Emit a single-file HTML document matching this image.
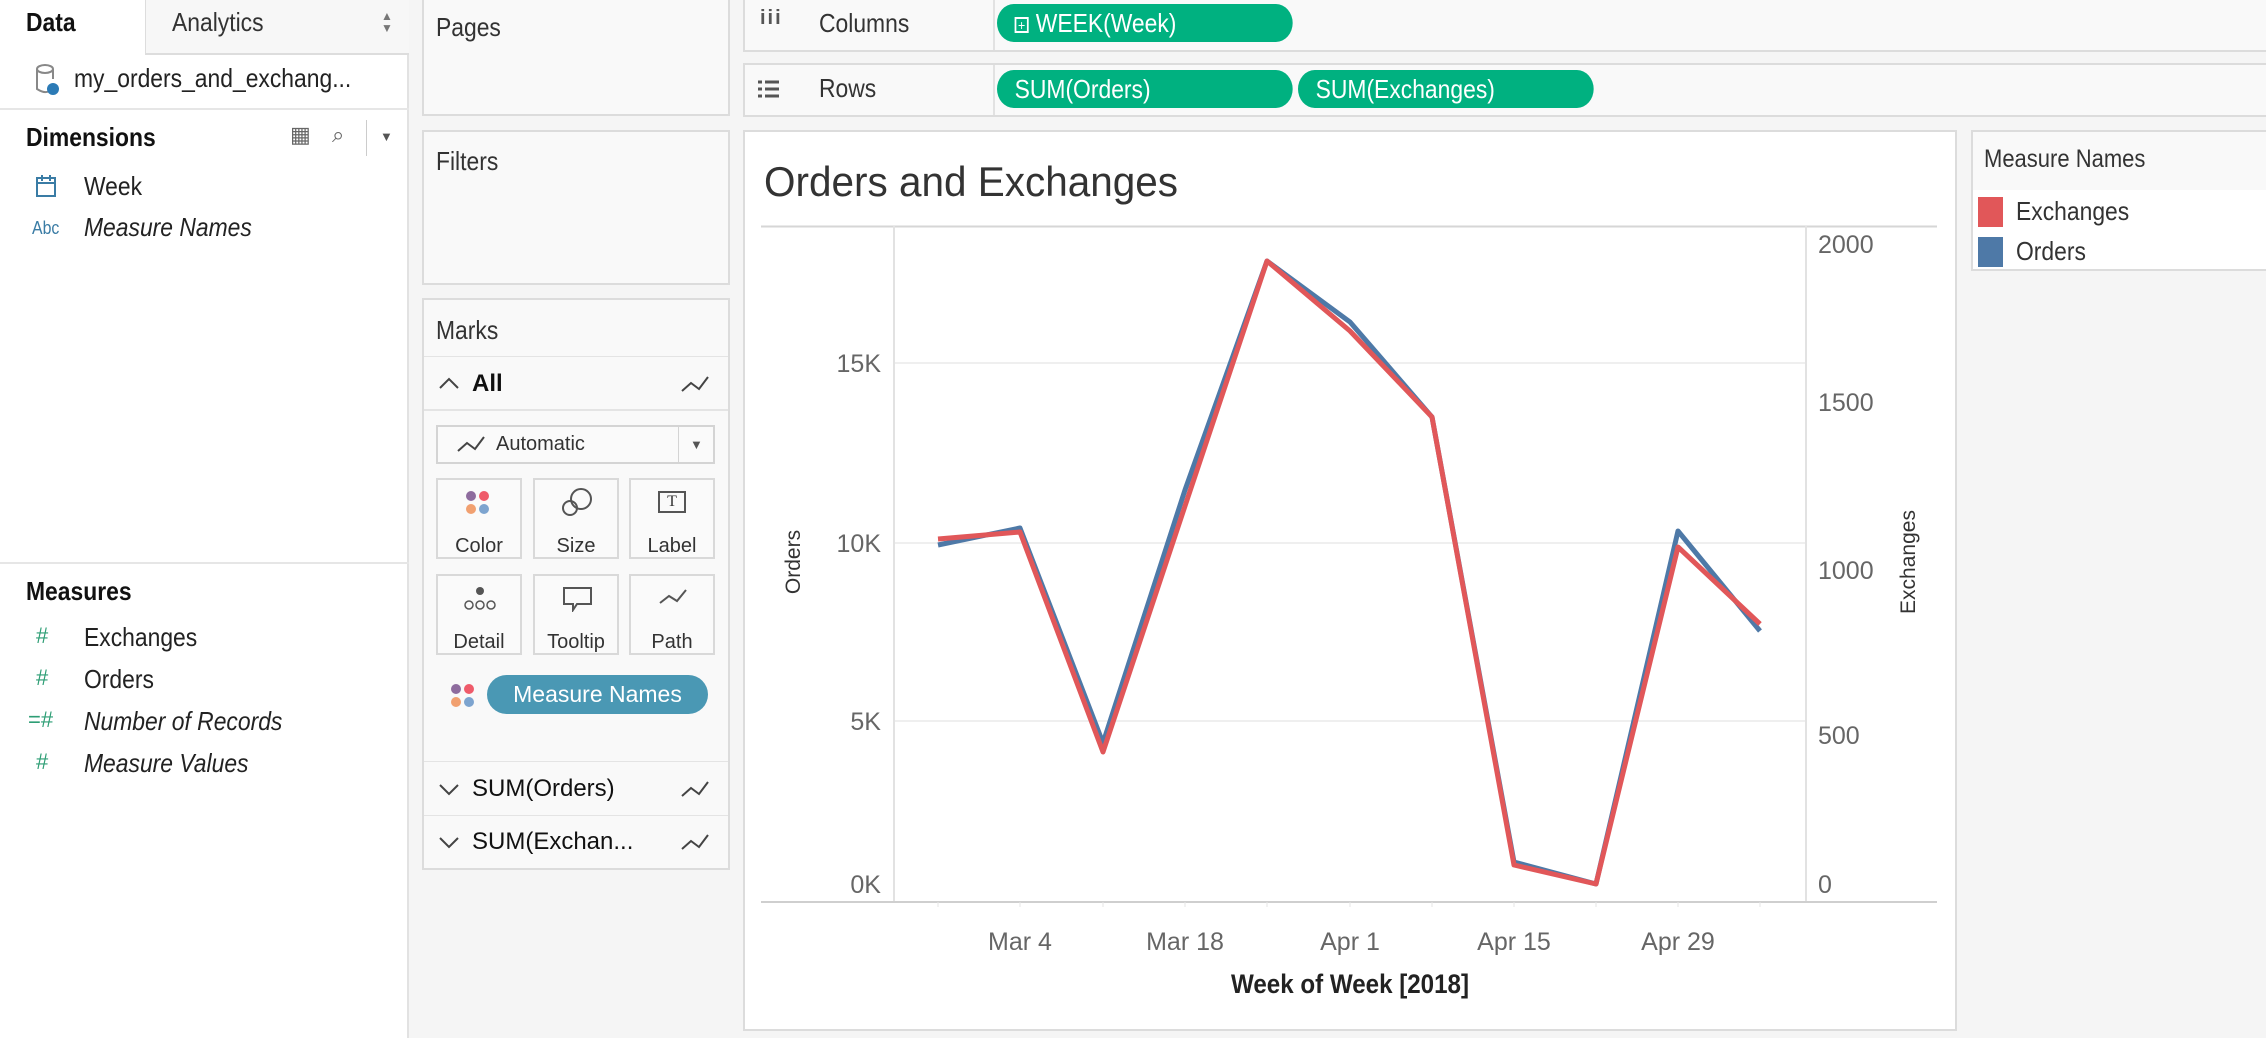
<!DOCTYPE html>
<html><head><meta charset="utf-8"><style>
*{margin:0;padding:0;box-sizing:border-box}
body{width:2266px;height:1038px;position:relative;overflow:hidden;background:#f5f5f5;font-family:"Liberation Sans",sans-serif;color:#333}
.a{position:absolute}
.t{position:absolute;white-space:nowrap;font-size:22px;line-height:1}
.box{position:absolute;background:#f9f9f9;border:2px solid #dcdcdc}
.n{font-family:"Liberation Sans Narrow","Liberation Sans",sans-serif;transform:scaleX(.88);transform-origin:0 0}
.pill{position:absolute;background:#00b180;border-radius:20px;color:#fff;font-size:23px;line-height:38px;padding-left:20px}
.btn{position:absolute;border:2px solid #d9d9d9;background:#fafafa;width:86px;height:81px;font-size:20px;text-align:center}
.btn span{position:absolute;left:0;right:0;top:55px}
</style></head><body>
<!-- left panel -->
<div class="a" style="left:0;top:0;width:409px;height:1038px;background:#fff;border-right:2px solid #e2e2e2"></div>
<div class="a" style="left:145px;top:0;width:264px;height:55px;background:#f7f7f7;border-left:1px solid #ddd;border-bottom:2px solid #ddd"></div>
<div class="t n" style="left:26px;top:9px;font-weight:bold;font-size:26px;color:#111">Data</div>
<div class="t n" style="left:172px;top:9px;font-size:26px">Analytics</div>
<div class="t" style="left:381px;top:10px;font-size:12px;color:#777;line-height:12px">▲<br>▼</div>
<svg class="a" style="left:34px;top:63px" width="28" height="34"><ellipse cx="11" cy="6" rx="8" ry="4" fill="none" stroke="#888" stroke-width="2"/><path d="M3 6v20q8 5 12 2M19 6v10" fill="none" stroke="#888" stroke-width="2"/><circle cx="19" cy="26" r="6" fill="#2c7bb6"/></svg>
<div class="t n" style="left:74px;top:65px;font-size:26px;color:#222">my_orders_and_exchang...</div>
<div class="a" style="left:0;top:108px;width:409px;height:2px;background:#e6e6e6"></div>
<div class="t n" style="left:26px;top:124px;font-weight:bold;font-size:26px;color:#111">Dimensions</div>
<div class="t" style="left:290px;top:124px;font-size:22px;color:#666">▦</div>
<div class="t" style="left:332px;top:124px;font-size:22px;color:#666">⌕</div>
<div class="a" style="left:366px;top:120px;width:1px;height:36px;background:#ccc"></div>
<div class="t" style="left:380px;top:130px;font-size:13px;color:#555">▼</div>
<svg class="a" style="left:36px;top:174px" width="22" height="24"><rect x="1" y="4" width="18" height="18" fill="none" stroke="#3a7ca5" stroke-width="2"/><path d="M1 9h18M6 1v6M14 1v6" stroke="#3a7ca5" stroke-width="2"/></svg>
<div class="t n" style="left:84px;top:173px;font-size:26px;color:#222">Week</div>
<div class="t n" style="left:32px;top:219px;font-size:18px;color:#3a7ca5">Abc</div>
<div class="t n" style="left:84px;top:214px;font-size:26px;font-style:italic;color:#222">Measure Names</div>
<div class="a" style="left:0;top:562px;width:409px;height:2px;background:#e6e6e6"></div>
<div class="t n" style="left:26px;top:578px;font-weight:bold;font-size:26px;color:#111">Measures</div>
<div class="t" style="left:36px;top:625px;color:#2e9e75">#</div>
<div class="t n" style="left:84px;top:624px;font-size:26px;color:#222">Exchanges</div>
<div class="t" style="left:36px;top:667px;color:#2e9e75">#</div>
<div class="t n" style="left:84px;top:666px;font-size:26px;color:#222">Orders</div>
<div class="t" style="left:28px;top:709px;color:#2e9e75">=#</div>
<div class="t n" style="left:84px;top:708px;font-size:26px;font-style:italic;color:#222">Number of Records</div>
<div class="t" style="left:36px;top:751px;color:#2e9e75">#</div>
<div class="t n" style="left:84px;top:750px;font-size:26px;font-style:italic;color:#222">Measure Values</div>

<!-- middle cards -->
<div class="box" style="left:422px;top:-2px;width:308px;height:118px"></div>
<div class="t n" style="left:436px;top:14px;font-size:26px">Pages</div>
<div class="box" style="left:422px;top:130px;width:308px;height:155px"></div>
<div class="t n" style="left:436px;top:148px;font-size:26px">Filters</div>
<div class="box" style="left:422px;top:298px;width:308px;height:572px"></div>
<div class="t n" style="left:436px;top:317px;font-size:26px">Marks</div>
<div class="a" style="left:424px;top:356px;width:304px;height:1px;background:#e4e4e4"></div>
<svg class="a" style="left:438px;top:376px" width="22" height="14"><path d="M2 12l9-9 9 9" fill="none" stroke="#444" stroke-width="2"/></svg>
<div class="t" style="left:472px;top:372px;font-weight:bold;font-size:24px;color:#111">All</div>
<svg class="a" style="left:680px;top:374px" width="30" height="20"><path d="M2 17l9-8 8 6 9-12" fill="none" stroke="#444" stroke-width="2"/></svg>
<div class="a" style="left:424px;top:409px;width:304px;height:2px;background:#e4e4e4"></div>
<div class="a" style="left:436px;top:425px;width:279px;height:39px;border:2px solid #d4d4d4;background:#fafafa"></div>
<div class="a" style="left:678px;top:427px;width:1px;height:35px;background:#d4d4d4"></div>
<svg class="a" style="left:456px;top:434px" width="30" height="20"><path d="M2 17l9-8 8 6 9-12" fill="none" stroke="#444" stroke-width="2"/></svg>
<div class="t" style="left:496px;top:434px;font-size:20px">Automatic</div>
<div class="t" style="left:690px;top:438px;font-size:13px;color:#555">▼</div>
<div class="btn" style="left:436px;top:478px"><svg class="a" style="left:27px;top:10px" width="30" height="30"><circle cx="6" cy="6" r="5" fill="#8e6c9e"/><circle cx="19" cy="6" r="5" fill="#ef5b6a"/><circle cx="6" cy="19" r="5" fill="#f1a070"/><circle cx="19" cy="19" r="5" fill="#7da4cf"/></svg><span>Color</span></div>
<div class="btn" style="left:533px;top:478px"><svg class="a" style="left:26px;top:8px" width="34" height="30"><circle cx="20" cy="11" r="10" fill="none" stroke="#555" stroke-width="2"/><circle cx="9" cy="20" r="7" fill="none" stroke="#555" stroke-width="2"/></svg><span>Size</span></div>
<div class="btn" style="left:629px;top:478px"><div class="a" style="left:27px;top:11px;width:28px;height:22px;border:2px solid #555;font-family:'Liberation Serif';font-size:16px;line-height:18px;text-align:center">T</div><span>Label</span></div>
<div class="btn" style="left:436px;top:574px"><svg class="a" style="left:25px;top:9px" width="34" height="28"><circle cx="17" cy="6" r="4" fill="#555"/><circle cx="6" cy="20" r="4" fill="none" stroke="#555" stroke-width="1.5"/><circle cx="17" cy="20" r="4" fill="none" stroke="#555" stroke-width="1.5"/><circle cx="28" cy="20" r="4" fill="none" stroke="#555" stroke-width="1.5"/></svg><span>Detail</span></div>
<div class="btn" style="left:533px;top:574px"><svg class="a" style="left:27px;top:10px" width="32" height="26"><path d="M2 2h27v16h-14l-4 6v-6h-9z" fill="none" stroke="#555" stroke-width="2"/></svg><span>Tooltip</span></div>
<div class="btn" style="left:629px;top:574px"><svg class="a" style="left:27px;top:12px" width="30" height="20"><path d="M2 15l9-7 8 5 9-11" fill="none" stroke="#555" stroke-width="2"/></svg><span>Path</span></div>
<svg class="a" style="left:450px;top:683px" width="28" height="28"><circle cx="6" cy="6" r="5" fill="#8e6c9e"/><circle cx="19" cy="6" r="5" fill="#ef5b6a"/><circle cx="6" cy="19" r="5" fill="#f1a070"/><circle cx="19" cy="19" r="5" fill="#7da4cf"/></svg>
<div class="a" style="left:487px;top:675px;width:221px;height:39px;border-radius:20px;background:#4a98b4;color:#fff;font-size:23px;line-height:39px;text-align:center">Measure Names</div>
<div class="a" style="left:424px;top:761px;width:304px;height:1px;background:#e4e4e4"></div>
<svg class="a" style="left:438px;top:783px" width="22" height="14"><path d="M2 2l9 9 9-9" fill="none" stroke="#444" stroke-width="2"/></svg>
<div class="t" style="left:472px;top:777px;font-size:24px;color:#111">SUM(Orders)</div>
<svg class="a" style="left:680px;top:779px" width="30" height="20"><path d="M2 17l9-8 8 6 9-12" fill="none" stroke="#444" stroke-width="2"/></svg>
<div class="a" style="left:424px;top:815px;width:304px;height:1px;background:#e4e4e4"></div>
<svg class="a" style="left:438px;top:836px" width="22" height="14"><path d="M2 2l9 9 9-9" fill="none" stroke="#444" stroke-width="2"/></svg>
<div class="t" style="left:472px;top:830px;font-size:24px;color:#111">SUM(Exchan...</div>
<svg class="a" style="left:680px;top:832px" width="30" height="20"><path d="M2 17l9-8 8 6 9-12" fill="none" stroke="#444" stroke-width="2"/></svg>

<!-- shelves -->
<div class="box" style="left:743px;top:-2px;width:1530px;height:54px"></div>
<div class="a" style="left:993px;top:0;width:2px;height:50px;background:#e2e2e2"></div>
<div class="t" style="left:760px;top:8px;font-size:20px;color:#555;font-weight:bold;letter-spacing:2px">iii</div>
<div class="t n" style="left:819px;top:10px;font-size:26px">Columns</div>
<div class="pill n" style="left:997px;top:4px;width:336px;font-size:26px"><span style="display:inline-block;width:16px;height:16px;border:2px solid #fff;font-size:14px;line-height:12px;text-align:center;vertical-align:2px;margin-right:8px">+</span>WEEK(Week)</div>
<div class="box" style="left:743px;top:63px;width:1530px;height:54px"></div>
<div class="a" style="left:993px;top:65px;width:2px;height:50px;background:#e2e2e2"></div>
<svg class="a" style="left:757px;top:79px" width="24" height="22"><path d="M1 3h4M1 10h4M1 17h4M8 3h14M8 10h14M8 17h14" stroke="#555" stroke-width="3"/></svg>
<div class="t n" style="left:819px;top:75px;font-size:26px">Rows</div>
<div class="pill n" style="left:997px;top:70px;width:336px;font-size:26px">SUM(Orders)</div>
<div class="pill n" style="left:1298px;top:70px;width:336px;font-size:26px">SUM(Exchanges)</div>

<!-- chart pane -->
<div class="a" style="left:743px;top:130px;width:1214px;height:901px;background:#fff;border:2px solid #dcdcdc"></div>
<svg class="a" style="left:0;top:0" width="2266" height="1038" font-family="Liberation Sans, sans-serif">
<text x="764" y="196" font-size="42" fill="#333" textLength="414" lengthAdjust="spacingAndGlyphs">Orders and Exchanges</text>
<line x1="761" y1="226.5" x2="1937" y2="226.5" stroke="#d6d6d6" stroke-width="2"/>
<g stroke="#efefef" stroke-width="2"><line x1="894" y1="363" x2="1806" y2="363"/><line x1="894" y1="543" x2="1806" y2="543"/><line x1="894" y1="721" x2="1806" y2="721"/></g>
<line x1="894" y1="226" x2="894" y2="902" stroke="#e2e2e2" stroke-width="2"/>
<line x1="1806" y1="226" x2="1806" y2="902" stroke="#e2e2e2" stroke-width="2"/>
<line x1="761" y1="902" x2="1937" y2="902" stroke="#cfcfcf" stroke-width="2"/>
<g stroke="#e6e6e6" stroke-width="1"><line x1="938" y1="902" x2="938" y2="907"/><line x1="1020" y1="902" x2="1020" y2="907"/><line x1="1103" y1="902" x2="1103" y2="907"/><line x1="1185" y1="902" x2="1185" y2="907"/><line x1="1267" y1="902" x2="1267" y2="907"/><line x1="1350" y1="902" x2="1350" y2="907"/><line x1="1432" y1="902" x2="1432" y2="907"/><line x1="1514" y1="902" x2="1514" y2="907"/><line x1="1596" y1="902" x2="1596" y2="907"/><line x1="1678" y1="902" x2="1678" y2="907"/><line x1="1760" y1="902" x2="1760" y2="907"/></g>
<g font-size="25" fill="#666" text-anchor="end"><text x="881" y="372">15K</text><text x="881" y="552">10K</text><text x="881" y="730">5K</text><text x="881" y="893">0K</text></g>
<g font-size="25" fill="#666"><text x="1818" y="253">2000</text><text x="1818" y="411">1500</text><text x="1818" y="579">1000</text><text x="1818" y="744">500</text><text x="1818" y="893">0</text></g>
<g font-size="25" fill="#666" text-anchor="middle"><text x="1020" y="950">Mar 4</text><text x="1185" y="950">Mar 18</text><text x="1350" y="950">Apr 1</text><text x="1514" y="950">Apr 15</text><text x="1678" y="950">Apr 29</text></g>
<text x="1350" y="993" font-size="27" fill="#222" font-weight="bold" text-anchor="middle" textLength="238" lengthAdjust="spacingAndGlyphs">Week of Week [2018]</text>
<text transform="translate(800,562) rotate(-90)" font-size="21" fill="#333" text-anchor="middle">Orders</text>
<text transform="translate(1915,562) rotate(-90)" font-size="21" fill="#333" text-anchor="middle">Exchanges</text>
<polyline fill="none" stroke="#4e79a7" stroke-width="5" stroke-linejoin="round" points="938,545 1020,528 1103,743 1185,490 1267,261 1350,322 1432,417 1514,862 1596,884 1678,531 1760,631"/>
<polyline fill="none" stroke="#e15759" stroke-width="5" stroke-linejoin="round" points="938,539 1020,532 1103,752 1185,506 1267,261 1350,331 1432,417 1514,865 1596,884 1678,547 1760,624"/>
</svg>

<!-- legend -->
<div class="a" style="left:1971px;top:130px;width:300px;height:141px;background:#fff;border:2px solid #dcdcdc"></div>
<div class="a" style="left:1973px;top:132px;width:293px;height:58px;background:#f9f9f9"></div>
<div class="t n" style="left:1984px;top:147px;font-size:25px">Measure Names</div>
<div class="a" style="left:1978px;top:197px;width:25px;height:30px;background:#e15759"></div>
<div class="t n" style="left:2016px;top:198px;font-size:26px">Exchanges</div>
<div class="a" style="left:1978px;top:237px;width:25px;height:30px;background:#4e79a7"></div>
<div class="t n" style="left:2016px;top:238px;font-size:26px">Orders</div>
</body></html>
